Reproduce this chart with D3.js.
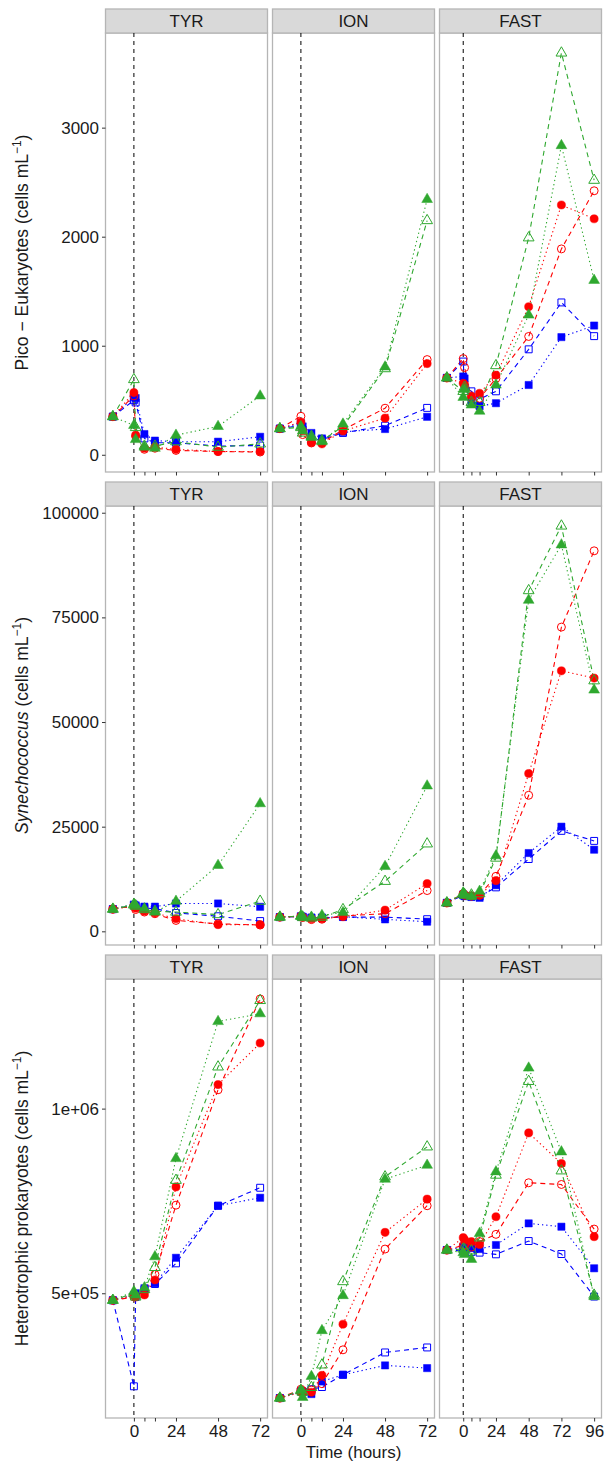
<!DOCTYPE html>
<html>
<head>
<meta charset="utf-8">
<script src="https://cdn.jsdelivr.net/npm/d3@7"></script>
<style>
  body { margin: 0; background: #fff; }
  svg { font-family: "Liberation Sans", Arial, sans-serif; }
</style>
</head>
<body>
<div id="chart"></div>
<script>
//Datos
const SITES = ['TYR', 'ION', 'FAST'];
const TIMES = [-12, 0, 1, 6, 12, 24, 48, 72];
const TIMES_FAST = [-12, 0, 1, 6, 12, 24, 48, 72, 96];
const X_BREAKS = [0, 6, 12, 24, 48, 72];
const X_BREAKS_FAST = [0, 6, 12, 24, 48, 72, 96];
const X_LABELS = [0, 24, 48, 72, 96];

//Orden de series: azul lleno, azul vacio, rojo lleno, rojo vacio, verde lleno, verde vacio
const picoTYR = [
  [350, 530, 520, 190, 130, 120, 120, 165],
  [350, 500, 480, 150, 110, 110, 80, 85],
  [350, 570, 180, 60, 70, 50, 30, 30],
  [350, 540, 170, 50, 60, 40, 30, 25],
  [350, 270, 140, 70, 60, 180, 260, 540],
  [350, 690, 250, 80, 80, 120, 70, 100]
];
const picoION = [
  [240, 290, 260, 200, 150, 210, 236, 348],
  [240, 270, 230, 139, 140, 200, 267, 430],
  [240, 300, 220, 110, 100, 218, 336, 836],
  [240, 353, 185, 109, 110, 230, 427, 873],
  [240, 260, 220, 160, 120, 282, 806, 2342],
  [240, 250, 200, 170, 130, 260, 790, 2148]
];
const picoFAST = [
  [705, 718, 700, 480, 445, 473, 640, 1079, 1185],
  [705, 855, 620, 582, 510, 582, 967, 1397, 1088],
  [705, 655, 640, 539, 564, 730, 1358, 2291, 2164],
  [705, 882, 800, 520, 518, 700, 1085, 1888, 2421],
  [705, 527, 600, 457, 400, 640, 1282, 2836, 1600],
  [705, 582, 620, 480, 480, 818, 1990, 3685, 2518]
];

const synTYR = [
  [5300, 6400, 6200, 5900, 5900, 6650, 6650, 5860],
  [5300, 6200, 6000, 5600, 5400, 4400, 3600, 2450],
  [5300, 6000, 5500, 4800, 4400, 3000, 1600, 1600],
  [5300, 6100, 5200, 4600, 4200, 2600, 1800, 1500],
  [5300, 6500, 6200, 5400, 4600, 7200, 15750, 30500],
  [5300, 6300, 6000, 5200, 4800, 4600, 4000, 7200]
];
const synION = [
  [3400, 3600, 3500, 3300, 3300, 3500, 2850, 2300],
  [3400, 3500, 3400, 3200, 3200, 3400, 3400, 2900],
  [3400, 3500, 3300, 3000, 3000, 3500, 5060, 11400],
  [3400, 3600, 3400, 2800, 2900, 3700, 4200, 9740],
  [3400, 3700, 3500, 3400, 3800, 4500, 15500, 34750],
  [3400, 3600, 3300, 3200, 3400, 5200, 11950, 20900]
];
const synFAST = [
  [6800, 8800, 8500, 8200, 8000, 11000, 18700, 25000, 19500],
  [6800, 8600, 8400, 8300, 8300, 10500, 17270, 24000, 21600],
  [6800, 8900, 8700, 8500, 8600, 12110, 37700, 62230, 60500],
  [6800, 9000, 8600, 8400, 8700, 13140, 32500, 72680, 90900],
  [6800, 9200, 8600, 8300, 9580, 18050, 79100, 92330, 57650],
  [6800, 9000, 8800, 8700, 9000, 17500, 81400, 96840, 59860]
];

const hetTYR = [
  [481000, 495000, 500000, 513500, 527000, 596000, 737000, 758600],
  [481000, 248000, 490000, 510000, 525000, 581000, 737000, 785700],
  [481000, 495000, 490000, 495500, 536000, 788000, 1065000, 1177600],
  [481000, 490000, 492000, 505000, 551000, 738600, 1051000, 1297000],
  [481000, 504600, 495000, 515000, 599000, 864900, 1236000, 1257000],
  [481000, 500000, 490000, 510000, 570000, 806000, 1113000, 1293000]
];
const hetION = [
  [216200, 234000, 232000, 227000, 261000, 279200, 304600, 297300],
  [216200, 236000, 234000, 240000, 246000, 279200, 339700, 353200],
  [216200, 232000, 230000, 232000, 277600, 416200, 664900, 754900],
  [216200, 240000, 236000, 238000, 255000, 346800, 619700, 737000],
  [216200, 238000, 218000, 274900, 399000, 493800, 809000, 846800],
  [216200, 236000, 232000, 245000, 306000, 531600, 815400, 896500]
];
const hetFAST = [
  [617000, 625000, 628000, 622000, 619700, 630600, 689200, 680200, 567600],
  [617000, 615000, 612000, 612000, 610000, 605400, 641400, 606200, 491000],
  [617000, 650500, 645000, 639700, 632000, 707300, 934300, 851400, 653200],
  [617000, 630000, 628000, 625000, 640000, 659500, 799200, 794600, 673800],
  [617000, 610000, 605000, 591900, 662000, 828900, 1110000, 883000, 491000],
  [617000, 620000, 618000, 615000, 650000, 820000, 1073800, 831600, 495000]
];

const picoTicks = [0, 1000, 2000, 3000];
const synTicks = [0, 25000, 50000, 75000, 100000];
const hetTicks = [500000, 1000000];
const hetTickLabels = ['5e+05', '1e+06'];

//Colores y estilos
const COLOR_BLUE = '#0000ff',
  COLOR_RED = '#ff0000',
  COLOR_GREEN = '#2fa82f',
  COLOR_BORDER = '#b5b5b5',
  COLOR_STRIP = '#d9d9d9',
  COLOR_TEXT = '#1a1a1a';

const DOTTED = '1.3,3', DASHED = '5,4';

const seriesStyle = [
  { color: COLOR_BLUE, symbol: d3.symbolSquare, size: 52, filled: true, dash: DOTTED },
  { color: COLOR_BLUE, symbol: d3.symbolSquare, size: 48, filled: false, dash: DASHED },
  { color: COLOR_RED, symbol: d3.symbolCircle, size: 52, filled: true, dash: DOTTED },
  { color: COLOR_RED, symbol: d3.symbolCircle, size: 50, filled: false, dash: DASHED },
  { color: COLOR_GREEN, symbol: d3.symbolTriangle, size: 50, filled: true, dash: DOTTED },
  { color: COLOR_GREEN, symbol: d3.symbolTriangle, size: 50, filled: false, dash: DASHED }
];

const rows = [
  { title: 'pico', panels: [picoTYR, picoION, picoFAST], ticks: picoTicks, fmt: d => d },
  { title: 'syn', panels: [synTYR, synION, synFAST], ticks: synTicks, fmt: d => d },
  { title: 'het', panels: [hetTYR, hetION, hetFAST], ticks: hetTicks, fmt: (d, i) => hetTickLabels[i] }
];

//Dimensiones
const width = 607, height = 1468;
const panelLeft = 105.5, panelW = 162, panelGap = 5;
const stripTop0 = 9, stripH = 24, panelH = 439, rowPitch = 473;

let svg = d3.select('#chart')
  .append('svg')
    .attr('width', width)
    .attr('height', height);

function expand(ext) {
  let pad = (ext[1] - ext[0]) * 0.05;
  return [ext[0] - pad, ext[1] + pad];
}

rows.forEach(function(row, r) {
  let stripTop = stripTop0 + r * rowPitch;
  let top = stripTop + stripH, bottom = top + panelH;

  let allVals = d3.merge(row.panels.map(p => d3.merge(p)));
  let y = d3.scaleLinear()
    .domain(expand(d3.extent(allVals)))
    .range([bottom, top]);

  row.panels.forEach(function(panel, c) {
    let left = panelLeft + c * (panelW + panelGap);
    let isFast = SITES[c] === 'FAST';
    let times = isFast ? TIMES_FAST : TIMES;

    let x = d3.scaleLinear()
      .domain(expand(d3.extent(times)))
      .range([left, left + panelW]);

    let g = svg.append('g').attr('class', 'panel');

    //Fondo y borde del panel
    g.append('rect')
      .attr('x', left).attr('y', top)
      .attr('width', panelW).attr('height', panelH)
      .attr('fill', '#fff')
      .attr('stroke', COLOR_BORDER)
      .attr('stroke-width', 1.3);

    //Cabecera
    g.append('rect')
      .attr('x', left).attr('y', stripTop)
      .attr('width', panelW).attr('height', stripH)
      .attr('fill', COLOR_STRIP)
      .attr('stroke', COLOR_BORDER)
      .attr('stroke-width', 1.3);

    g.append('text')
      .attr('x', left + panelW / 2)
      .attr('y', stripTop + stripH / 2)
      .attr('dy', '0.36em')
      .attr('text-anchor', 'middle')
      .attr('font-size', 17)
      .attr('fill', COLOR_TEXT)
      .text(SITES[c]);

    //Linea vertical en t = 0
    g.append('line')
      .attr('x1', x(0)).attr('x2', x(0))
      .attr('y1', top).attr('y2', bottom)
      .attr('stroke', '#000')
      .attr('stroke-width', 1)
      .attr('stroke-dasharray', '4,4');

    //Eje X
    let xAxis = d3.axisBottom(x)
      .tickValues(isFast ? X_BREAKS_FAST : X_BREAKS)
      .tickSize(3.5)
      .tickPadding(3)
      .tickFormat(d => (r === rows.length - 1 && X_LABELS.indexOf(d) >= 0) ? d : '');

    let gx = g.append('g')
      .attr('transform', 'translate(0,' + bottom + ')')
      .call(xAxis);
    gx.select('.domain').remove();
    gx.selectAll('line').attr('stroke', '#333');
    gx.selectAll('text')
      .attr('font-size', 17)
      .attr('fill', COLOR_TEXT)
      .attr('font-family', null);
    gx.attr('font-family', null);

    //Eje Y solo en el primer panel
    if (c === 0) {
      let yAxis = d3.axisLeft(y)
        .tickValues(row.ticks)
        .tickSize(3.5)
        .tickPadding(3)
        .tickFormat(row.fmt);
      let gy = g.append('g')
        .attr('transform', 'translate(' + left + ',0)')
        .call(yAxis);
      gy.select('.domain').remove();
      gy.selectAll('line').attr('stroke', '#333');
      gy.selectAll('text')
        .attr('font-size', 17)
        .attr('fill', COLOR_TEXT);
      gy.attr('font-family', null);
    }

    //Lineas
    let line = d3.line()
      .x((d, i) => x(times[i]))
      .y(d => y(d));

    g.append('g')
      .selectAll('path')
      .data(panel)
      .enter()
      .append('path')
        .attr('d', d => line(d))
        .attr('fill', 'none')
        .attr('stroke', (d, i) => seriesStyle[i].color)
        .attr('stroke-width', 1.1)
        .attr('stroke-dasharray', (d, i) => seriesStyle[i].dash);

    //Puntos
    panel.forEach(function(values, s) {
      let st = seriesStyle[s];
      let sym = d3.symbol().type(st.symbol).size(st.size);
      g.append('g')
        .selectAll('path')
        .data(values)
        .enter()
        .append('path')
          .attr('d', sym)
          .attr('transform', (d, i) => 'translate(' + x(times[i]) + ',' + y(d) + ')')
          .attr('fill', st.filled ? st.color : 'none')
          .attr('stroke', st.color)
          .attr('stroke-width', st.filled ? 0.5 : 1);
    });
  });

  //Titulo del eje Y
  let t = svg.append('text')
    .attr('transform', 'translate(22,' + ((top + bottom) / 2) + ') rotate(-90)')
    .attr('text-anchor', 'middle')
    .attr('dy', '0.36em')
    .attr('font-size', 17.5)
    .attr('fill', COLOR_TEXT);

  if (row.title === 'pico') {
    t.append('tspan').text('Pico \u2212 Eukaryotes (cells mL');
  } else if (row.title === 'syn') {
    t.append('tspan').attr('font-style', 'italic').text('Synechococcus');
    t.append('tspan').text(' (cells mL');
  } else {
    t.append('tspan').text('Heterotrophic prokaryotes (cells mL');
  }
  t.append('tspan').attr('dy', -7).attr('font-size', 12).text('\u22121');
  t.append('tspan').attr('dy', 7).text(')');
});

//Titulo del eje X
svg.append('text')
  .attr('x', panelLeft + (3 * panelW + 2 * panelGap) / 2)
  .attr('y', 1458)
  .attr('text-anchor', 'middle')
  .attr('font-size', 17)
  .attr('fill', COLOR_TEXT)
  .text('Time (hours)');
</script>
</body>
</html>
